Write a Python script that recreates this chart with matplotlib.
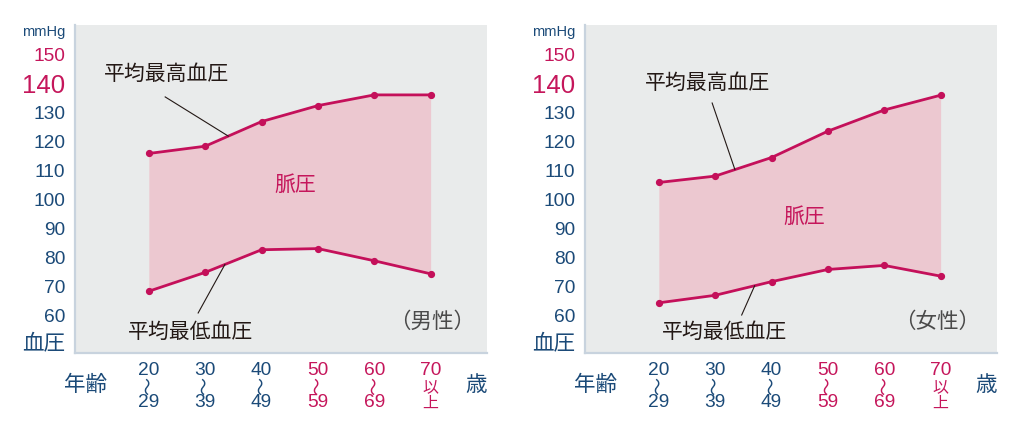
import numpy as np
import matplotlib
matplotlib.use('Agg')
import matplotlib.pyplot as plt

plt.rcParams['font.family'] = ['Noto Sans CJK JP', 'DejaVu Sans']

# data
age_top = ['20', '30', '40', '50', '60', '70']
age_mid = ['〜', '〜', '〜', '〜', '〜', '以']
age_bot = ['29', '39', '49', '59', '69', '上']
male_sys = [116, 118.5, 127, 132.5, 136.2, 136.2]
male_dia = [68.5, 75, 82.8, 83.2, 79, 74.5]
female_sys = [106, 108.2, 114.6, 123.7, 131, 136.1]
female_dia = [64.5, 67.1, 71.8, 76, 77.4, 73.7]
yticks = [60, 70, 80, 90, 100, 110, 120, 130, 140, 150]

blue = '#1b4a78'
red = '#c5165b'
line_c = '#c4105a'
fill_c = '#ecc8d0'
bg = '#e9ebeb'
spine_c = '#c8d3de'
num_font = 'Liberation Sans'

fig = plt.figure(figsize=(10.3, 4.28), dpi=100)

panels = [
    dict(left=75, sys=male_sys, dia=male_dia, sex='（男性）',
         hi_txt=(0.32, 143.4), hi_from=(0.29, 135.5), hi_x=1.41,
         lo_txt=(0.74, 54.5), lo_from=(0.875, 61.0), lo_x=1.35,
         pp=(2.6, 105.2), sex_pos=(5.03, 57.9)),
    dict(left=585, sys=female_sys, dia=female_dia, sex='（女性）',
         hi_txt=(0.86, 140.3), hi_from=(0.946, 133.4), hi_x=1.35,
         lo_txt=(1.16, 54.5), lo_from=(1.47, 60.3), lo_x=1.7,
         pp=(2.58, 94.1), sex_pos=(4.93, 57.9)),
]

x = np.arange(len(age_top))

for p in panels:
    ax = fig.add_axes([p['left'] / 1030, 75 / 428, 412 / 1030, 328 / 428])
    ax.set_facecolor(bg)
    ax.set_xlim(-1.31, 6.0)
    ax.set_ylim(47.2, 160.3)
    for s in ['top', 'right']:
        ax.spines[s].set_visible(False)
    for s in ['left', 'bottom']:
        ax.spines[s].set_color(spine_c)
        ax.spines[s].set_linewidth(1.6)

    ax.fill_between(x, p['dia'], p['sys'], color=fill_c, lw=0)
    ax.plot(x, p['sys'], color=line_c, lw=2.0, marker='o', ms=4.2)
    ax.plot(x, p['dia'], color=line_c, lw=2.0, marker='o', ms=4.2)

    # y ticks
    ax.set_xticks([])
    ax.set_yticks(yticks)
    ax.set_yticklabels([str(v) for v in yticks], family=num_font)
    ax.tick_params(axis='y', length=0, pad=7)
    for lab, v in zip(ax.get_yticklabels(), yticks):
        lab.set_color(red if v >= 140 else blue)
        lab.set_fontsize(18.5 if v == 140 else 13.8)
    ytr = ax.get_yaxis_transform()
    ax.text(-0.024, 157.9, 'mmHg', transform=ytr, ha='right', va='center',
            color=blue, fontsize=10.5, family=num_font)
    ax.text(-0.024, 50.5, '血圧', transform=ytr, ha='right', va='center',
            color=blue, fontsize=15.5)

    # x tick labels
    xtr = ax.get_xaxis_transform()
    for i in range(len(age_top)):
        c = red if i >= 3 else blue
        ax.text(x[i], -0.052, age_top[i], transform=xtr, ha='center', va='center',
                color=c, fontsize=13.8, family=num_font)
        if age_mid[i] == '〜':
            ax.text(x[i], -0.102, age_mid[i], transform=xtr, ha='center', va='center',
                    color=c, fontsize=13, rotation=90)
            ax.text(x[i], -0.15, age_bot[i], transform=xtr, ha='center', va='center',
                    color=c, fontsize=13.8, family=num_font)
        else:
            ax.text(x[i], -0.107, age_mid[i], transform=xtr, ha='center', va='center',
                    color=c, fontsize=11.5)
            ax.text(x[i], -0.153, age_bot[i], transform=xtr, ha='center', va='center',
                    color=c, fontsize=11.5)
    ax.text(0.026, -0.098, '年齢', transform=ax.transAxes, ha='center', va='center',
            color=blue, fontsize=15.5)
    ax.text(0.973, -0.098, '歳', transform=ax.transAxes, ha='center', va='center',
            color=blue, fontsize=15.5)

    # annotations
    ax.text(*p['hi_txt'], '平均最高血圧', ha='center', va='center', color='#231815', fontsize=15)
    ax.plot([p['hi_from'][0], p['hi_x']], [p['hi_from'][1], np.interp(p['hi_x'], x, p['sys'])],
            color='#231815', lw=0.8)
    ax.text(*p['lo_txt'], '平均最低血圧', ha='center', va='center', color='#231815', fontsize=15)
    ax.plot([p['lo_from'][0], p['lo_x']], [p['lo_from'][1], np.interp(p['lo_x'], x, p['dia'])],
            color='#231815', lw=0.8)
    ax.text(*p['pp'], '脈圧', ha='center', va='center', color=red, fontsize=15)
    ax.text(*p['sex_pos'], p['sex'], ha='center', va='center', color='#4a4a4a', fontsize=15.5)

fig.savefig('out.png', dpi=100)
